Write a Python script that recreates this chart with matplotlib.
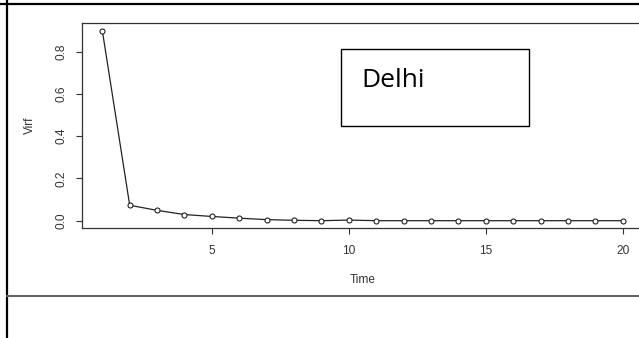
import matplotlib.pyplot as plt
from matplotlib.patches import Rectangle
from matplotlib.lines import Line2D

# Impulse response series for Delhi, 20 periods
time = list(range(1, 21))
virf = [0.900, 0.073, 0.049, 0.029, 0.020, 0.012, 0.005, 0.002, 0.000, 0.003,
        0.000, 0.000, 0.000, 0.000, 0.000, 0.000, 0.000, 0.000, 0.000, 0.000]
xticks = [5, 10, 15, 20]
yticks = [0.0, 0.2, 0.4, 0.6, 0.8]
panel_title = "Delhi"

W, H = 639, 338
fig = plt.figure(figsize=(W / 100, H / 100), dpi=100)
fig.patch.set_facecolor('white')


def px(x, y):
    """Pixel coords (origin top-left) -> figure fraction."""
    return x / W, 1 - y / H


# plot region (right edge runs off the page like the pasted R graphic)
left, right, top, bottom = 81.5, 643.6, 23.0, 228.3
ax = fig.add_axes([left / W, 1 - bottom / H, (right - left) / W, (bottom - top) / H])

ax.plot(time, virf, color='#222222', linewidth=0.9, marker='o', markersize=3.6,
        markerfacecolor='white', markeredgecolor='#222222', markeredgewidth=0.8)

# R style 4% axis padding
xpad = 0.04 * (max(time) - min(time))
ypad = 0.04 * (max(virf) - min(virf))
ax.set_xlim(min(time) - xpad, max(time) + xpad)
ax.set_ylim(min(virf) - ypad, max(virf) + ypad)

ax.set_xticks(xticks)
ax.set_xticklabels([str(t) for t in xticks])
ax.set_yticks(yticks)
ax.set_yticklabels([f"{v:.1f}" for v in yticks], rotation=90, va='center')

txt = '#333333'
ax.tick_params(direction='out', length=4.3, width=0.8, color='#333333',
               labelsize=8.6, labelcolor=txt, pad=8)
ax.tick_params(axis='y', pad=6)
for s in ax.spines.values():
    s.set_color('#333333')
    s.set_linewidth(0.9)

ax.set_xlabel('Time', fontsize=8.6, color=txt, family='Liberation Sans', labelpad=12)
ax.set_ylabel('Virf', fontsize=8.6, color=txt, family='Liberation Sans', labelpad=14)
for lab in ax.get_xticklabels() + ax.get_yticklabels():
    lab.set_family('Liberation Sans')

# text box over the plot
bx0, by0 = px(340.7, 126)
bx1, by1 = px(528.7, 49)
fig.patches.append(Rectangle((bx0, by0), bx1 - bx0, by1 - by0, transform=fig.transFigure,
                             facecolor='white', edgecolor='black', linewidth=1.0, zorder=5))
tx, ty = px(361.7, 87.3)
fig.text(tx, ty, panel_title, fontsize=19, family='Open Sans', color='black',
         ha='left', va='baseline', zorder=6)

# table cell borders around the graphic
fig.lines.append(Line2D([0, 1], [1 - 4.4 / H] * 2, transform=fig.transFigure,
                        color='black', linewidth=1.6))
fig.lines.append(Line2D([6.7 / W] * 2, [0, 1], transform=fig.transFigure,
                        color='black', linewidth=1.6))
fig.lines.append(Line2D([6.7 / W, 1], [1 - 296 / H] * 2, transform=fig.transFigure,
                        color='#666666', linewidth=1.5))

fig.savefig('out.png', dpi=100)
